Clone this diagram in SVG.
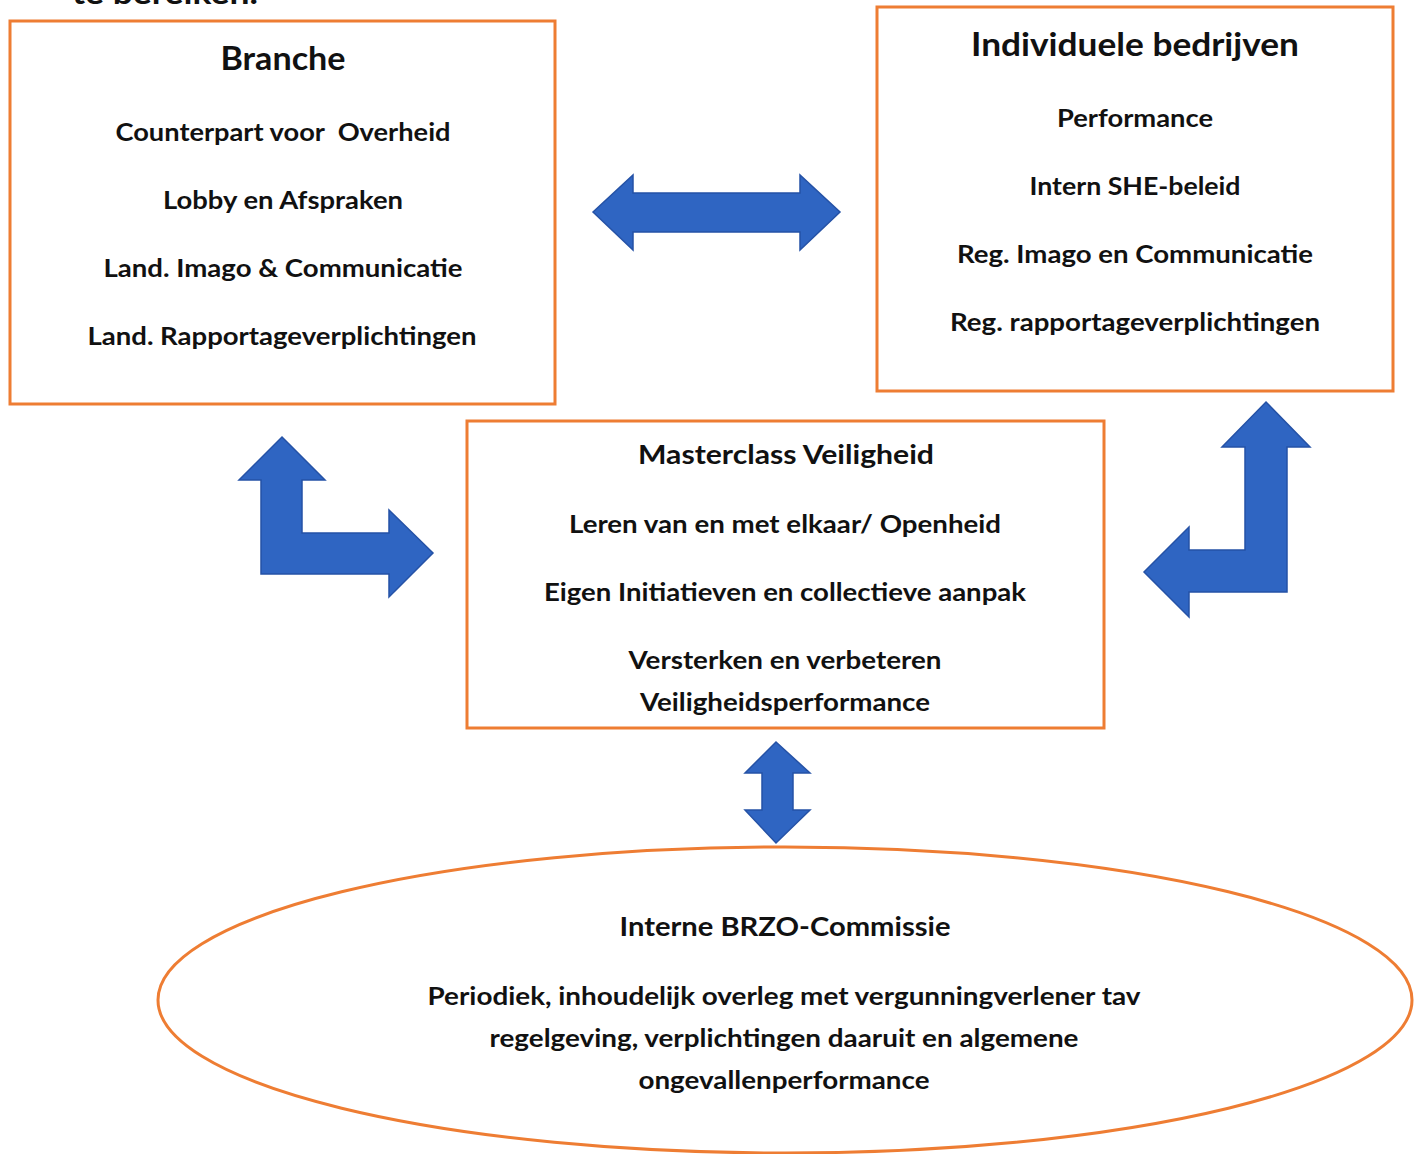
<svg xmlns="http://www.w3.org/2000/svg" width="1419" height="1154" viewBox="0 0 1419 1154">
<style>
text{font-family:Lato,"Open Sans","Liberation Sans",sans-serif;font-weight:bold;fill:#111;text-anchor:middle}
.t{font-size:32px}.l{font-size:25px}.m{font-size:27px}
.box{fill:#fff;stroke:#EE7D33;stroke-width:3}
.arr{fill:#2F65C2;stroke:#2552A6;stroke-width:1.5;stroke-linejoin:miter}
</style>
<rect width="1419" height="1154" fill="#fff"/>
<text x="165" y="4" style="font-size:30px;text-anchor:middle" textLength="186" lengthAdjust="spacingAndGlyphs">te bereiken.</text>
<g id="branche">
<rect class="box" x="10" y="21" width="545" height="383"/>
<text class="t" x="283" y="70" textLength="125" lengthAdjust="spacingAndGlyphs">Branche</text>
<text class="l" x="283" y="141" textLength="335" lengthAdjust="spacingAndGlyphs" xml:space="preserve">Counterpart voor  Overheid</text>
<text class="l" x="283" y="209" textLength="240" lengthAdjust="spacingAndGlyphs">Lobby en Afspraken</text>
<text class="l" x="283" y="277" textLength="359" lengthAdjust="spacingAndGlyphs">Land. Imago &amp; Communicatie</text>
<text class="l" x="282" y="345" textLength="389" lengthAdjust="spacingAndGlyphs">Land. Rapportageverplichtingen</text>
</g>
<g id="bedrijven">
<rect class="box" x="877" y="7" width="516" height="384"/>
<text class="t" x="1135" y="56" textLength="328" lengthAdjust="spacingAndGlyphs">Individuele bedrijven</text>
<text class="l" x="1135" y="127" textLength="156" lengthAdjust="spacingAndGlyphs">Performance</text>
<text class="l" x="1135" y="195" textLength="211" lengthAdjust="spacingAndGlyphs">Intern SHE-beleid</text>
<text class="l" x="1135" y="263" textLength="356" lengthAdjust="spacingAndGlyphs">Reg. Imago en Communicatie</text>
<text class="l" x="1135" y="331" textLength="370" lengthAdjust="spacingAndGlyphs">Reg. rapportageverplichtingen</text>
</g>
<g id="masterclass">
<rect class="box" x="467" y="421" width="637" height="307"/>
<text class="m" x="786" y="464" textLength="296" lengthAdjust="spacingAndGlyphs">Masterclass Veiligheid</text>
<text class="l" x="785" y="533" textLength="432" lengthAdjust="spacingAndGlyphs">Leren van en met elkaar/ Openheid</text>
<text class="l" x="785" y="601" textLength="482" lengthAdjust="spacingAndGlyphs">Eigen Initiatieven en collectieve aanpak</text>
<text class="l" x="785" y="669" textLength="313" lengthAdjust="spacingAndGlyphs">Versterken en verbeteren</text>
<text class="l" x="785" y="711" textLength="290" lengthAdjust="spacingAndGlyphs">Veiligheidsperformance</text>
</g>
<g id="brzo">
<ellipse class="box" cx="785" cy="1000" rx="627" ry="153"/>
<text class="m" x="785" y="936" textLength="331" lengthAdjust="spacingAndGlyphs">Interne BRZO-Commissie</text>
<text class="l" x="784" y="1005" textLength="713" lengthAdjust="spacingAndGlyphs">Periodiek, inhoudelijk overleg met vergunningverlener tav</text>
<text class="l" x="784" y="1047" textLength="589" lengthAdjust="spacingAndGlyphs">regelgeving, verplichtingen daaruit en algemene</text>
<text class="l" x="784" y="1089" textLength="291" lengthAdjust="spacingAndGlyphs">ongevallenperformance</text>
</g>
<g id="connectors">
<polygon class="arr" points="593,212 633,175 633,193 800,193 800,175 840,212 800,250 800,232 633,232 633,250"/>
<polygon class="arr" points="282,437 325,480 302,480 302,533 389,533 389,510 433,553 389,597 389,574 261,574 261,480 239,480"/>
<polygon class="arr" points="1266,402 1310,447 1287,447 1287,592 1189,592 1189,617 1144,572 1189,527 1189,550 1245,550 1245,447 1222,447"/>
<polygon class="arr" points="776,742 810,773 793,773 793,810 810,810 776,843 745,810 762,810 762,773 745,773"/>
</g>
</svg>
